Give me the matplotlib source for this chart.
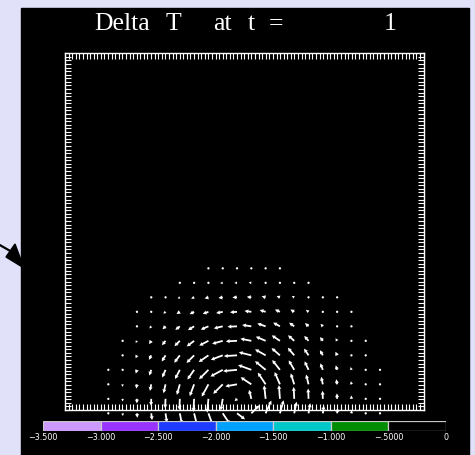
import numpy as np
import matplotlib
matplotlib.use('Agg')
import matplotlib.pyplot as plt
from matplotlib.patches import Rectangle, Polygon
from matplotlib.lines import Line2D

W, H = 475, 455
_ = np.nan

# grid columns / rows of the vector field (grid index units)
cols = np.arange(20)
rows = np.arange(11)

# wind components in pixels (u to the right, v upward), one list per grid row, bottom row first
u_rows = [
    [0.1, 0.3, 0.5, 0.9, 1.4, 2.1, 3.1, 4.8, 7.1, 8.0, 8.1, 5.7, 3.7, 2.4, 1.7, 1.1, 0.6, 0.3, 0.2, 0.1],
    [0.0, -0.1, -0.1, -0.2, -0.4, -0.5, -0.8, -1.3, -2.0, -2.4, -2.2, -1.5, -1.0, -0.6, -0.4, -0.3, -0.2, -0.1, 0.0, 0.0],
    [-0.2, -0.4, -0.7, -1.3, -2.0, -3.0, -4.4, -6.7, -9.5, -11.7, -10.7, -7.8, -5.3, -3.5, -2.4, -1.6, -0.9, -0.5, -0.3, -0.2],
    [-0.3, -0.6, -1.2, -2.0, -3.3, -4.8, -6.7, -9.4, -12.3, -13.9, -13.2, -10.6, -7.7, -5.5, -3.9, -2.5, -1.4, -0.8, -0.4, -0.3],
    [_, -0.7, -1.3, -2.3, -3.8, -5.6, -7.6, -9.7, -11.9, -13.1, -12.5, -10.6, -8.4, -6.4, -4.5, -2.9, -1.7, -0.9, -0.5, _],
    [_, -0.8, -1.3, -2.2, -3.6, -5.4, -7.4, -9.2, -10.6, -11.2, -10.9, -9.8, -8.2, -6.2, -4.3, -2.8, -1.6, -0.9, -0.6, _],
    [_, _, -1.1, -1.9, -3.0, -4.5, -6.2, -7.7, -8.9, -9.5, -9.2, -8.3, -6.8, -5.1, -3.5, -2.3, -1.4, -0.9, _, _],
    [_, _, -1.0, -1.5, -2.2, -3.3, -4.5, -5.7, -6.6, -7.0, -6.8, -6.0, -5.0, -3.8, -2.6, -1.8, -1.1, -0.7, _, _],
    [_, _, _, -1.1, -1.6, -2.2, -3.0, -3.8, -4.3, -4.6, -4.5, -4.0, -3.3, -2.5, -1.8, -1.3, -0.9, _, _, _],
    [_, _, _, _, _, -1.5, -1.9, -2.3, -2.6, -2.7, -2.7, -2.4, -2.1, -1.6, -1.3, _, _, _, _, _],
    [_, _, _, _, _, _, _, -1.5, -1.6, -1.6, -1.6, -1.5, -1.4, _, _, _, _, _, _, _],
]
v_rows = [
    [-1.6, -2.7, -4.5, -6.8, -9.3, -10.9, -12.5, -13.2, -10.7, -6.0, 8.1, 12.8, 13.1, 11.6, 10.1, 7.8, 5.4, 3.2, 2.0, 1.3],
    [-1.6, -2.7, -4.6, -7.0, -9.5, -11.2, -13.1, -13.9, -11.7, -2.4, 9.0, 13.5, 13.7, 11.9, 10.3, 8.0, 5.5, 3.4, 2.1, 1.3],
    [-1.6, -2.6, -4.3, -6.6, -8.9, -10.5, -11.8, -12.3, -9.5, -2.0, 7.1, 11.7, 12.3, 11.0, 9.8, 7.5, 5.1, 3.1, 1.9, 1.2],
    [-1.5, -2.3, -3.8, -5.7, -7.7, -9.2, -9.7, -9.4, -6.7, -1.3, 4.8, 8.7, 9.8, 9.5, 8.5, 6.5, 4.5, 2.8, 1.7, 1.2],
    [_, -1.9, -3.0, -4.5, -6.2, -7.4, -7.6, -6.7, -4.5, -0.8, 3.1, 6.0, 7.3, 7.6, 6.7, 5.2, 3.6, 2.3, 1.5, _],
    [_, -1.5, -2.2, -3.3, -4.4, -5.4, -5.6, -4.8, -3.0, -0.5, 2.1, 4.2, 5.5, 5.6, 4.9, 3.8, 2.6, 1.8, 1.2, _],
    [_, _, -1.6, -2.2, -3.0, -3.6, -3.8, -3.3, -2.1, -0.4, 1.4, 2.9, 3.7, 3.7, 3.3, 2.5, 1.8, 1.3, _, _],
    [_, _, -1.1, -1.5, -1.9, -2.2, -2.3, -2.0, -1.3, -0.5, 0.9, 1.8, 2.3, 2.3, 2.0, 1.6, 1.2, 0.9, _, _],
    [_, _, _, -1.0, -1.1, -1.3, -1.3, -1.2, -0.7, -0.1, 0.5, 1.0, 1.3, 1.3, 1.2, 1.0, 0.9, _, _, _],
    [_, _, _, _, _, -0.8, -0.7, -0.6, -0.4, -0.1, 0.3, 0.5, 0.7, 0.8, 0.8, _, _, _, _, _],
    [_, _, _, _, _, _, _, -0.3, -0.2, 0.0, 0.1, 0.3, 0.4, _, _, _, _, _, _, _],
]

# shading levels and colours of the colour key
levels = [-3.5, -3.0, -2.5, -2.0, -1.5, -1.0, -0.5, 0.0]
level_labels = ['\u22123.500', '\u22123.000', '\u22122.500', '\u22122.000',
                '\u22121.500', '\u22121.000', '\u2212.5000', '0']
level_colors = ['#cc99ff', '#9933ff', '#1e3cff', '#00a0ff', '#00c8c8', '#008c00', '#000000']

# title words and their centres (pixels)
title_words = ['Delta', 'T', 'at', 't', '=', '1']
title_x = [122, 173, 222, 251, 276, 390]


def fx(px):
    return px / W


def fy(py):
    return 1 - py / H


fig = plt.figure(figsize=(W / 100, H / 100), dpi=100, facecolor='#e1e1fa')

# pointer arrow in the left margin, partly hidden by the black panel
fig.add_artist(Line2D([fx(-2), fx(12)], [fy(244), fy(252)], transform=fig.transFigure,
                      color='black', lw=1.6, zorder=-3))
fig.add_artist(Polygon([(fx(6), fy(257)), (fx(15), fy(244)), (fx(24), fy(268))],
                       closed=True, transform=fig.transFigure, color='black', zorder=-3))

# black plotting panel
fig.add_artist(Rectangle((fx(21), 0), fx(469) - fx(21), fy(8.3), transform=fig.transFigure,
                         color='black', zorder=-2))

ax = fig.add_axes([fx(65), fy(410), fx(423.5) - fx(65), fy(53.3) - fy(410)])
ax.set_facecolor('black')
xlim = (-3.03, 22.04)
ylim = (0.23, 24.83)

X, Y = np.meshgrid(cols, rows)
U = np.ma.masked_invalid(np.array(u_rows))
V = np.ma.masked_invalid(np.array(v_rows))
ax.quiver(X, Y, U, V, color='white', pivot='tail', units='dots', width=1.8,
          scale_units='dots', scale=1, headwidth=2.3, headlength=2.2, headaxislength=2.0,
          minlength=1.4, minshaft=1, clip_on=False, zorder=3)

ax.set_xlim(xlim)
ax.set_ylim(ylim)
ax.set_xticks(np.linspace(xlim[0], xlim[1], 101))
ax.set_yticks(np.linspace(ylim[0], ylim[1], 101))
ax.tick_params(direction='in', length=4.4, width=0.8, color='white',
               top=True, right=True, bottom=True, left=True,
               labelbottom=False, labelleft=False)
for sp in ax.spines.values():
    sp.set_color('white')
    sp.set_linewidth(1.0)

# title
for txt, x in zip(title_words, title_x):
    fig.text(fx(x), fy(30), txt, color='white', fontsize=18.5, family='Liberation Serif',
             ha='center', va='baseline')

# colour key
cax = fig.add_axes([fx(43), fy(431), fx(446) - fx(43), fy(421) - fy(431)])
cax.set_facecolor('black')
cax.bar(levels[:-1], 1, width=0.5, align='edge', color=level_colors,
        edgecolor='#c8c8c8', linewidth=0.9)
cax.set_xlim(levels[0], levels[-1])
cax.set_ylim(0, 1)
cax.set_yticks([])
cax.set_xticks(levels, level_labels)
cax.tick_params(axis='x', length=0, pad=1.5, labelsize=5.8, labelcolor='white')
for sp in cax.spines.values():
    sp.set_visible(False)

fig.savefig('out.png', dpi=100, facecolor=fig.get_facecolor())
